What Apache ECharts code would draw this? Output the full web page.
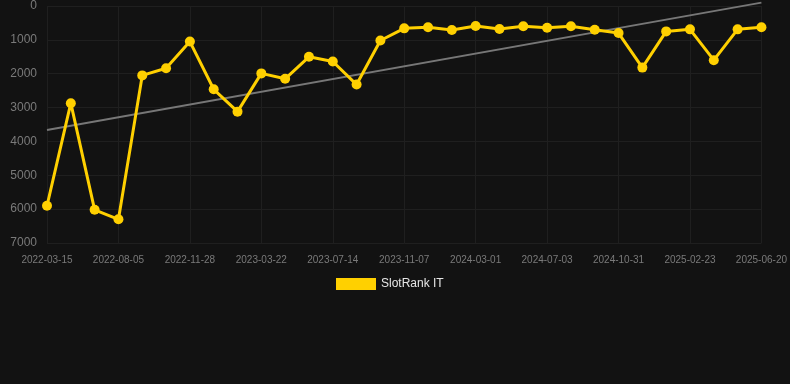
<!DOCTYPE html>
<html>
<head>
<meta charset="utf-8">
<script src="https://cdn.jsdelivr.net/npm/echarts@6/dist/echarts.min.js"></script>
<style>
  html, body { margin: 0; padding: 0; background: #121212; }
  #chart { width: 790px; height: 384px; }
</style>
</head>
<body>
<div id="chart"></div>
<script>
// Dates (une étiquette sur trois est affichée)
const dates = [
    '2022-03-15', '2022-05-01', '2022-06-18', '2022-08-05', '2022-09-12', '2022-10-20',
    '2022-11-28', '2023-01-05', '2023-02-12', '2023-03-22', '2023-04-29', '2023-06-06',
    '2023-07-14', '2023-08-22', '2023-09-30', '2023-11-07', '2023-12-15', '2024-01-22',
    '2024-03-01', '2024-04-11', '2024-05-22', '2024-07-03', '2024-08-12', '2024-09-21',
    '2024-10-31', '2024-12-08', '2025-01-15', '2025-02-23', '2025-04-03', '2025-05-12',
    '2025-06-20'
];

// Rang SlotRank IT
const rankIT = [
    5900, 2870, 6020, 6300, 2050, 1840, 1050, 2460, 3120, 1990, 2150, 1500,
    1640, 2320, 1020, 660, 630, 710, 590, 680, 600, 640, 600, 700,
    800, 1820, 750, 690, 1600, 690, 630
];

// Tendance : valeurs au début et à la fin
const trendEnds = [3660, -100];

const chart = echarts.init(document.getElementById('chart'));

chart.setOption({
    backgroundColor: '#121212',
    animation: false,
    grid: {
        left: 47,
        right: 28,
        top: 6,
        bottom: 141
    },
    legend: {
        top: 273,
        left: 331,
        itemWidth: 40,
        itemHeight: 12,
        itemGap: 10,
        textStyle: { color: '#e6e6e6', fontSize: 12, fontFamily: 'Arial, Liberation Sans, sans-serif' },
        data: [{ name: 'SlotRank IT', icon: 'rect' }]
    },
    xAxis: {
        type: 'category',
        data: dates,
        boundaryGap: false,
        axisLine: { show: false },
        axisTick: { show: false },
        axisLabel: {
            interval: 2,
            color: '#7a7a7a',
            fontSize: 10,
            margin: 12,
            fontFamily: 'Arial, Liberation Sans, sans-serif'
        },
        splitLine: {
            show: true,
            interval: 2,
            lineStyle: { color: '#1f1f1f', width: 1 }
        }
    },
    yAxis: {
        type: 'value',
        inverse: true,
        min: 0,
        max: 7000,
        interval: 1000,
        axisLine: { show: false },
        axisTick: { show: false },
        axisLabel: {
            color: '#7a7a7a',
            fontSize: 12,
            margin: 10,
            formatter: v => String(v),
            fontFamily: 'Arial, Liberation Sans, sans-serif'
        },
        splitLine: { lineStyle: { color: '#1f1f1f', width: 1 } }
    },
    series: [
        {
            name: 'Trend',
            type: 'line',
            clip: false,
            symbol: 'none',
            silent: true,
            lineStyle: { color: '#777777', width: 2 },
            data: [[0, trendEnds[0]], [dates.length - 1, trendEnds[1]]],
            z: 1
        },
        {
            name: 'SlotRank IT',
            type: 'line',
            data: rankIT,
            symbol: 'circle',
            symbolSize: 10,
            color: '#FFD000',
            lineStyle: { color: '#FFD000', width: 3 },
            itemStyle: { color: '#FFD000' },
            z: 2
        }
    ]
});
</script>
</body>
</html>
